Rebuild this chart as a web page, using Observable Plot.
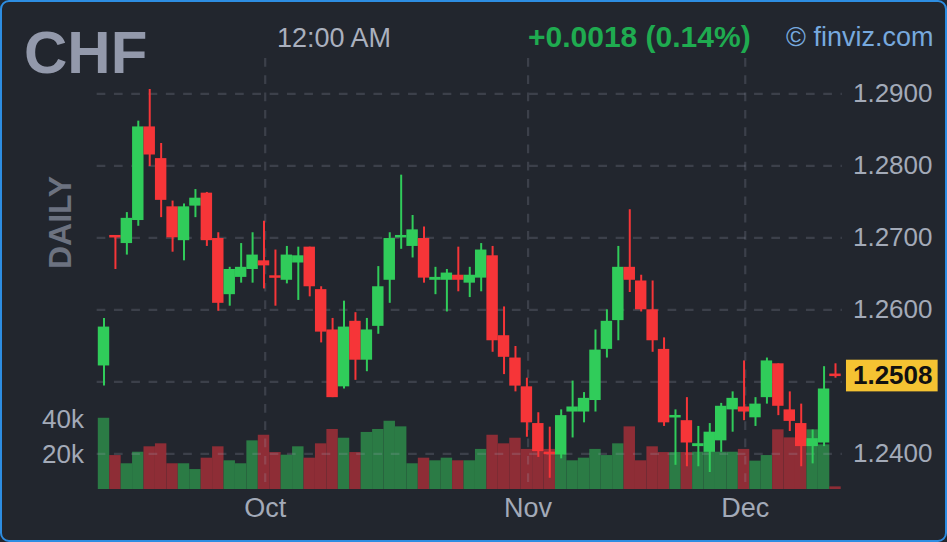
<!DOCTYPE html>
<html><head><meta charset="utf-8">
<script src="https://cdn.jsdelivr.net/npm/d3@7"></script>
<script src="https://cdn.jsdelivr.net/npm/@observablehq/plot@0.6"></script>
<style>
html,body{margin:0;padding:0;background:#22262e;}
#wrap{position:relative;width:947px;height:542px;overflow:hidden;background:#22262e;font-family:"Liberation Sans",Arial,sans-serif;}
#wrap > svg{position:absolute;left:0;top:0;}
#border{position:absolute;left:0;top:0;width:947px;height:542px;box-sizing:border-box;border:2px solid #2d8de2;border-radius:9px;pointer-events:none;}
</style></head><body><div id="wrap"></div><script>
// ---- data ----
const symbol = "CHF";
const timeLabel = "12:00 AM";
const credit = "© finviz.com";
const period = "DAILY";
const open  = [1.2522,1.2702,1.2692,1.2724,1.2854,1.2810,1.2743,1.2696,1.2744,1.2762,1.2699,1.2621,1.2645,1.2656,1.2668,1.2646,1.2641,1.2665,1.2687,1.2628,1.2572,1.2493,1.2584,1.2530,1.2577,1.2641,1.2701,1.2688,1.2699,1.2641,1.2641,1.2648,1.2637,1.2644,1.2675,1.2564,1.2533,1.2493,1.2442,1.2401,1.2398,1.2458,1.2458,1.2474,1.2545,1.2585,1.2659,1.2640,1.2600,1.2545,1.2450,1.2446,1.2410,1.2402,1.2418,1.2461,1.2465,1.2450,1.2478,1.2525,1.2461,1.2442,1.2410,1.2415,1.2510];
const high  = [1.2588,1.2703,1.2735,1.2862,1.2906,1.2831,1.2751,1.2747,1.2767,1.2763,1.2707,1.2659,1.2692,1.2707,1.2723,1.2683,1.2688,1.2687,1.2687,1.2632,1.2588,1.2612,1.2596,1.2588,1.2660,1.2707,1.2787,1.2731,1.2715,1.2659,1.2656,1.2687,1.2659,1.2692,1.2688,1.2604,1.2549,1.2505,1.2457,1.2437,1.2461,1.2501,1.2485,1.2572,1.2600,1.2688,1.2739,1.2648,1.2640,1.2561,1.2461,1.2478,1.2438,1.2442,1.2470,1.2486,1.2529,1.2478,1.2533,1.2525,1.2486,1.2469,1.2433,1.2521,1.2525];
const low   = [1.2494,1.2656,1.2676,1.2716,1.2799,1.2728,1.2680,1.2668,1.2728,1.2688,1.2598,1.2605,1.2637,1.2637,1.2629,1.2605,1.2636,1.2613,1.2618,1.2554,1.2478,1.2490,1.2502,1.2514,1.2566,1.2609,1.2684,1.2672,1.2637,1.2621,1.2597,1.2625,1.2617,1.2625,1.2541,1.2510,1.2486,1.2423,1.2395,1.2366,1.2393,1.2422,1.2443,1.2458,1.2533,1.2557,1.2624,1.2597,1.2541,1.2438,1.2384,1.2382,1.2382,1.2374,1.2402,1.2430,1.2446,1.2438,1.2469,1.2453,1.2431,1.2382,1.2386,1.2410,1.2505];
const close = [1.2576,1.2701,1.2727,1.2854,1.2815,1.2752,1.2700,1.2743,1.2755,1.2696,1.2609,1.2656,1.2659,1.2676,1.2661,1.2645,1.2676,1.2675,1.2632,1.2569,1.2478,1.2576,1.2530,1.2572,1.2632,1.2699,1.2702,1.2711,1.2644,1.2645,1.2651,1.2641,1.2648,1.2683,1.2557,1.2534,1.2494,1.2443,1.2403,1.2400,1.2453,1.2465,1.2477,1.2544,1.2584,1.2659,1.2641,1.2600,1.2557,1.2443,1.2453,1.2415,1.2414,1.2430,1.2466,1.2477,1.2458,1.2469,1.2529,1.2466,1.2445,1.2410,1.2421,1.2490,1.2508];
const volume = [40700,19400,14700,21300,24400,26100,14700,14700,11400,17900,24400,16400,14700,27800,31000,21100,19600,24400,17900,26100,34300,29300,21100,32600,34300,39000,35800,14700,17900,16400,17900,16400,16400,22900,31000,26100,29300,22900,22900,22900,19400,16400,17900,22900,19400,26100,35800,16400,24400,21100,21100,21100,21300,21300,21300,21300,22900,16200,19400,34100,29500,29500,34100,25500,1500];
const months = ["Oct","Nov","Dec"];
const monthIdx = [14,37,56];
const priceTicks = [1.24,1.25,1.26,1.27,1.28,1.29];
const volTicks = [20000,40000];

// ---- styling ----
const GREEN = "#30cc5a", RED = "#f63538";
const VGREEN = "#2b7b45", VRED = "#8e2d36";
const LABEL = "#a3aab8";
const FONT = "'Liberation Sans', Arial, sans-serif";
const n = close.length;
const idx = d3.range(n);
const up = i => close[i] >= open[i];
const minBody = 0.00035;
const bodyLo = i => { const lo = Math.min(open[i], close[i]), hi = Math.max(open[i], close[i]); return hi - lo < minBody ? (lo + hi) / 2 - minBody / 2 : lo; };
const bodyHi = i => { const lo = Math.min(open[i], close[i]), hi = Math.max(open[i], close[i]); return hi - lo < minBody ? (lo + hi) / 2 + minBody / 2 : hi; };
const last = close[n - 1];
const gridTop = 1.2949, gridBottom = 1.2350;
// tick labels hidden behind the last-price box are not drawn
const visibleTicks = priceTicks.filter(t => Math.abs(t - last) > 0.0035);

const common = {
  width: 947, height: 542,
  marginLeft: 103.5, marginRight: 112,
  x: {domain: [0, n - 1], axis: null},
  color: {type: "identity"},
  style: {background: "transparent", overflow: "visible", fontFamily: FONT}
};

const volPlot = Plot.plot({
  ...common,
  marginTop: 419, marginBottom: 53,
  y: {domain: [0, 40000], axis: null},
  marks: [
    Plot.rect(idx, {x1: i => i - 0.5, x2: i => i + 0.5, y1: () => 0, y2: i => volume[i], fill: i => up(i) ? VGREEN : VRED}),
    Plot.text(volTicks, {y: d => d, text: d => d / 1000 + "k", frameAnchor: "left", dx: -20, textAnchor: "end", fill: LABEL, fontSize: 26}),
    Plot.text(monthIdx, {x: d => d, text: (d, i) => months[i], frameAnchor: "bottom", dy: 27, dx: 1.2, fill: LABEL, fontSize: 27})
  ]
});

const pricePlot = Plot.plot({
  ...common,
  marginTop: 93.3, marginBottom: 88.7,
  y: {domain: [1.24, 1.29], axis: null},
  marks: [
    Plot.ruleY(priceTicks, {y: d => d, x1: () => -0.6, x2: () => n - 0.4, stroke: "#a3abbd", strokeOpacity: 0.2, strokeWidth: 2.2, strokeDasharray: "8.7,8.6"}),
    Plot.ruleX(monthIdx, {x: d => d, y1: () => gridTop, y2: () => gridBottom, dx: 1.2, stroke: "#a3abbd", strokeOpacity: 0.2, strokeWidth: 2.2, strokeDasharray: "8.7,8.6"}),
    Plot.ruleX(idx, {x: i => i, y1: i => low[i], y2: i => high[i], stroke: i => up(i) ? GREEN : RED, strokeWidth: 2}),
    Plot.rect(idx, {x1: i => i - 0.5, x2: i => i + 0.5, y1: bodyLo, y2: bodyHi, fill: i => up(i) ? GREEN : RED}),
    Plot.text(visibleTicks, {y: d => d, text: d3.format(".4f"), frameAnchor: "right", dx: 97, textAnchor: "end", fill: LABEL, fontSize: 26}),
    Plot.rect([last], {x1: () => n - 1 + 0.96, x2: () => n - 1 + 8.98, y1: d => d - 0.0022, y2: d => d + 0.0022, fill: "#f5c332"}),
    Plot.text([last], {y: d => d, text: d3.format(".4f"), frameAnchor: "right", dx: 97, textAnchor: "end", fill: "#111111", fontSize: 26, fontWeight: "bold"})
  ]
});

// header texts
const change = close[n - 1] - close[n - 2];
const changeLabel = d3.format("+.4f")(change) + " (" + d3.format(".2f")(Math.abs(change / close[n - 2]) * 100) + "%)";
const hdr = d3.create("svg").attr("width", 947).attr("height", 542).style("font-family", FONT);
hdr.append("text").attr("x", 24).attr("y", 72.7).attr("font-size", 60).attr("font-weight", "bold").attr("fill", "#9399ab").text(symbol);
hdr.append("text").attr("x", 277).attr("y", 46.5).attr("font-size", 27).attr("fill", "#aab0be").text(timeLabel);
hdr.append("text").attr("x", 528).attr("y", 46.5).attr("font-size", 30).attr("font-weight", "bold").attr("fill", "#1fab50").text(changeLabel);
hdr.append("text").attr("x", 786).attr("y", 46).attr("font-size", 27).attr("fill", "#77a9de").text(credit);
hdr.append("text").attr("transform", "translate(71,222.5) rotate(-90)").attr("text-anchor", "middle").attr("font-size", 32).attr("font-weight", "bold").attr("fill", "#6c7280").text(period);

const wrap = document.getElementById("wrap");
wrap.appendChild(volPlot);
wrap.appendChild(pricePlot);
wrap.appendChild(hdr.node());
const b = document.createElement("div"); b.id = "border"; wrap.appendChild(b);
for (const s of wrap.querySelectorAll(":scope > svg")) { s.style.position = "absolute"; s.style.left = "0"; s.style.top = "0"; }
</script></body></html>
